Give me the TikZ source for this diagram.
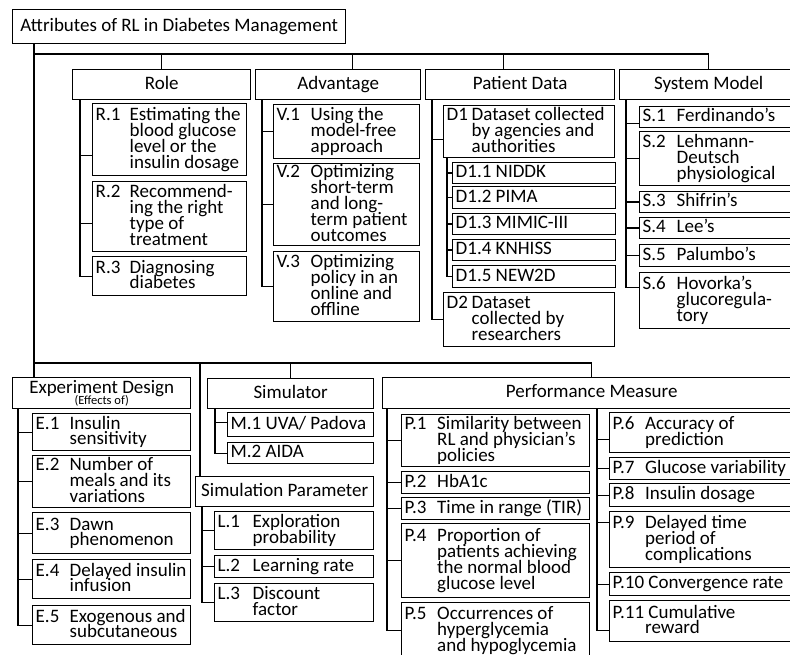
\documentclass[tikz,border=0pt]{standalone}
\usepackage{fontspec}
\setmainfont{Carlito}
\newcommand\bfnt{\fontsize{19}{15.9}\selectfont\lineskiplimit=-50pt\relax}
\newcommand\lbl[2][34pt]{\makebox[#1][l]{#2}}
\newcommand\hin[1][34pt]{\hspace*{#1}}
\newcommand\lns[1]{\vtop{\lineskiplimit=-50pt\baselineskip=15.9pt\let\\\cr\halign{\vrule height 14pt depth 4.5pt width 0pt##\hfil\cr#1\crcr}}}
\newcommand\bx[6]{\node[box, minimum width={#4-#2}, minimum height={#5-#3}] (#1) at (#2,#3) {\makebox[\dimexpr#4pt-#2pt-6pt\relax][l]{\lns{#6}}};}
\newcommand\hdr[6]{\node[hd, minimum width={#4-#2}, minimum height={#5-#3}] (#1) at (#2,#3) {\vrule height 14pt depth 4.5pt width 0pt#6};}
\begin{document}
\begin{tikzpicture}[x=1pt,y=-1pt,
  ln/.style={line width=1.4pt},
  box/.style={draw, line width=1.4pt, anchor=north west, inner xsep=3pt, inner ysep=0pt, font=\bfnt},
  hd/.style={draw, line width=1.4pt, anchor=north west, inner sep=0pt, align=center, font=\bfnt}]
\useasboundingbox (0,0) rectangle (790,655);
\clip (0,0) rectangle (790,655);

% root
\hdr{root}{12}{9}{345}{43}{Attributes of RL in Diabetes Management}

% Role
\hdr{Role}{72}{69}{250}{99}{Role}
\bx{R1}{92}{103}{246}{175}{\lbl{R.1}Estimating the\\\hin blood glucose\\\hin level or the\\\hin insulin dosage}
\bx{R2}{92}{181}{246}{251}{\lbl{R.2}Recommend-\\\hin ing the right\\\hin type of\\\hin treatment}
\bx{R3}{92}{256}{246}{295}{\lbl{R.3}Diagnosing\\\hin diabetes}

% Advantage
\hdr{Adv}{255}{69}{420}{99}{Advantage}
\bx{V1}{273}{104}{419}{158}{\lbl{V.1}Using the\\\hin model-free\\\hin approach}
\bx{V2}{273}{163}{419}{245}{\lbl{V.2}Optimizing\\\hin short-term\\\hin and long-\\\hin term patient\\\hin outcomes}
\bx{V3}{273}{251}{419}{321}{\lbl{V.3}Optimizing\\\hin policy in an\\\hin online and\\\hin offline}

% Patient Data
\hdr{PD}{425}{69}{614}{99}{Patient Data}
\bx{D1}{443}{105}{614}{157}{\lbl[25pt]{D1}Dataset collected\\\hin[25pt]by agencies and\\\hin[25pt]authorities}
\bx{D11}{452}{162}{615}{183}{D1.1 NIDDK}
\bx{D12}{452}{186}{615}{208}{D1.2 PIMA}
\bx{D13}{452}{213}{615}{234}{D1.3 MIMIC-III}
\bx{D14}{452}{239}{615}{260}{D1.4 KNHISS}
\bx{D15}{452}{265}{615}{287}{D1.5 NEW2D}
\bx{D2}{443}{292}{614}{346}{\lbl[25pt]{D2}Dataset\\\hin[25pt]collected by\\\hin[25pt]researchers}

% System Model
\hdr{SM}{619}{69}{797}{99}{System Model}
\bx{S1}{639}{106}{800}{127}{\lbl{S.1}Ferdinando’s}
\bx{S2}{639}{131}{800}{185}{\lbl{S.2}Lehmann-\\\hin Deutsch\\\hin physiological}
\bx{S3}{639}{191}{800}{212}{\lbl{S.3}Shifrin’s}
\bx{S4}{639}{217}{800}{238}{\lbl{S.4}Lee’s}
\bx{S5}{639}{244}{800}{266}{\lbl{S.5}Palumbo’s}
\bx{S6}{639}{272}{800}{328}{\lbl{S.6}Hovorka’s\\\hin glucoregula-\\\hin tory}

% Experiment Design
\node[hd, minimum width=178, minimum height=31] (ED) at (12,377)
  {\vbox{\halign{\hfil#\hfil\cr \vrule height 13pt width 0pt Experiment Design\cr\noalign{\vskip-5pt}{\fontsize{12.5}{13}\selectfont (Effects of)}\cr}}};
\bx{E1}{32}{413}{190}{450}{\lbl{E.1}Insulin\\\hin sensitivity}
\bx{E2}{32}{455}{190}{507}{\lbl{E.2}Number of\\\hin meals and its\\\hin variations}
\bx{E3}{32}{512}{190}{553}{\lbl{E.3}Dawn\\\hin phenomenon}
\bx{E4}{32}{559}{190}{598}{\lbl{E.4}Delayed insulin\\\hin infusion}
\bx{E5}{32}{605}{190}{644}{\lbl{E.5}Exogenous and\\\hin subcutaneous}

% Simulator
\hdr{Sim}{207}{378}{373}{408}{Simulator}
\bx{M1}{227}{412}{373}{436}{M.1 UVA/ Padova}
\bx{M2}{227}{442}{373}{463}{M.2 AIDA}

% Simulation Parameter
\hdr{SP}{195}{476}{373}{506}{Simulation Parameter}
\bx{L1}{214}{511}{373}{549}{\lbl[35pt]{L.1}Exploration\\\hin[35pt]probability}
\bx{L2}{214}{555}{373}{577}{\lbl[35pt]{L.2}Learning rate}
\bx{L3}{214}{583}{373}{621}{\lbl[35pt]{L.3}Discount\\\hin[35pt]factor}

% Performance Measure
\hdr{PM}{382}{377}{800}{408}{Performance Measure}
\bx{P1}{401}{414}{589}{466}{\lbl[32.5pt]{P.1}Similarity between\\\hin[32.5pt]RL and physician’s\\\hin[32.5pt]policies}
\bx{P2}{401}{471}{589}{493}{\lbl[32.5pt]{P.2}HbA1c}
\bx{P3}{401}{497}{589}{519}{\lbl[32.5pt]{P.3}Time in range (TIR)}
\bx{P4}{401}{523}{589}{597}{\lbl[32.5pt]{P.4}Proportion of\\\hin[32.5pt]patients achieving\\\hin[32.5pt]the normal blood\\\hin[32.5pt]glucose level}
\bx{P5}{401}{602}{589}{658}{\lbl[32.5pt]{P.5}Occurrences of\\\hin[32.5pt]hyperglycemia\\\hin[32.5pt]and hypoglycemia}
\bx{P6}{609}{412}{800}{452}{\lbl[32.5pt]{P.6}Accuracy of\\\hin[32.5pt]prediction}
\bx{P7}{609}{457}{800}{479}{\lbl[32.5pt]{P.7}Glucose variability}
\bx{P8}{609}{483}{800}{506}{\lbl[32.5pt]{P.8}Insulin dosage}
\bx{P9}{609}{511}{800}{567}{\lbl[32.5pt]{P.9}Delayed time\\\hin[32.5pt]period of\\\hin[32.5pt]complications}
\bx{P10}{609}{572}{800}{595}{P.10 Convergence rate}
\bx{P11}{609}{600}{800}{641}{P.11 Cumulative\\\hin[32.5pt]reward}

% main connectors
\coordinate (j1) at (34,54);
\coordinate (j2) at (34,363);
\draw[ln] ([xshift=22pt]root.south west) -- ([xshift=22pt]ED.north west);
\draw[ln] (j1) -| (Role.north);
\draw[ln] (j1) -| ([xshift=14.5pt]Adv.north);
\draw[ln] (j1) -| ([xshift=-16.5pt]PD.north);
\draw[ln] (j1) -| (SM.north);
\draw[ln] (j2) -| (Sim.north);
\draw[ln] (j2) -| ([xshift=5pt]SP.north west);
\draw[ln] (j2) -| (PM.north);

% Role
\draw[ln] ([xshift=8pt]Role.south west) |- ([yshift=-16pt]R1.west);
\draw[ln] ([xshift=8pt]Role.south west) |- ([yshift=-7pt]R2.west);
\draw[ln] ([xshift=8pt]Role.south west) |- (R3.west);
% Advantage
\draw[ln] ([xshift=7pt]Adv.south west) |- (V1.west);
\draw[ln] ([xshift=7pt]Adv.south west) |- (V2.west);
\draw[ln] ([xshift=7pt]Adv.south west) |- (V3.west);
% Patient data
\draw[ln] ([xshift=7pt]PD.south west) |- ([yshift=-8pt]D1.west);
\draw[ln] ([xshift=7pt]PD.south west) |- (D2.west);
\foreach \d in {D11,D12,D13,D14,D15}
  \draw[ln] ([xshift=4pt]D1.south west) |- (\d.west);
% System model
\draw[ln] ([xshift=7pt]SM.south west) |- ([yshift=-6.5pt]S1.west);
\draw[ln] ([xshift=7pt]SM.south west) |- (S2.west);
\draw[ln] ([xshift=7pt]SM.south west) |- (S3.west);
\draw[ln] ([xshift=7pt]SM.south west) |- (S4.west);
\draw[ln] ([xshift=7pt]SM.south west) |- (S5.west);
\draw[ln] ([xshift=7pt]SM.south west) |- ([yshift=13pt]S6.west);
% Experiment design
\foreach \e in {E1,E2,E3,E4,E5}
  \draw[ln] ([xshift=6pt]ED.south west) |- (\e.west);
% Simulator
\draw[ln] ([xshift=8pt]Sim.south west) |- ([yshift=2pt]M1.west);
\draw[ln] ([xshift=8pt]Sim.south west) |- (M2.west);
% Simulation parameter
\foreach \l in {L1,L2,L3}
  \draw[ln] ([xshift=7pt]SP.south west) |- (\l.west);
% Performance measure
\foreach \p in {P1,P2,P3,P4,P5}
  \draw[ln] ([xshift=5pt]PM.south west) |- (\p.west);
\draw[ln] ([xshift=215pt]PM.south west) |- ([yshift=-7pt]P6.west);
\draw[ln] ([xshift=215pt]PM.south west) |- (P7.west);
\draw[ln] ([xshift=215pt]PM.south west) |- (P8.west);
\draw[ln] ([xshift=215pt]PM.south west) |- ([yshift=17pt]P9.west);
\draw[ln] ([xshift=215pt]PM.south west) |- (P10.west);
\draw[ln] ([xshift=215pt]PM.south west) |- ([yshift=-9.5pt]P11.west);
\end{tikzpicture}
\end{document}
